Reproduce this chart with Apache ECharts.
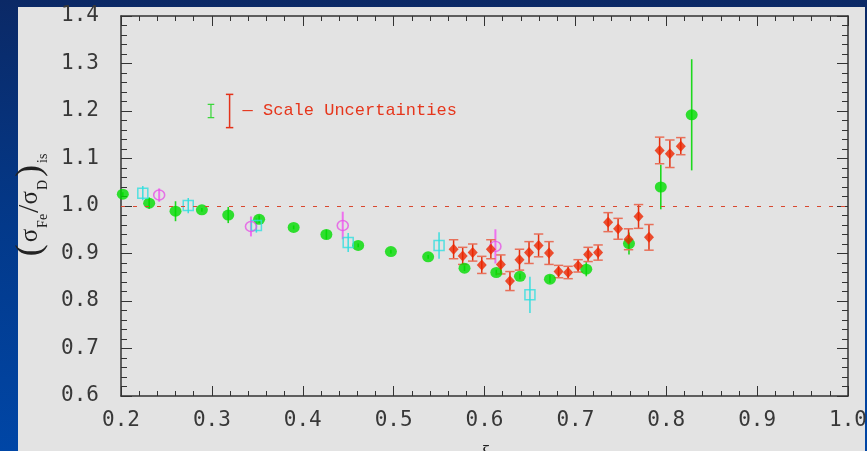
<!DOCTYPE html>
<html>
<head>
<meta charset="utf-8">
<script src="https://cdn.jsdelivr.net/npm/echarts@6/dist/echarts.min.js"></script>
<style>
  html, body { margin: 0; padding: 0; width: 867px; height: 451px; overflow: hidden;
    background: linear-gradient(180deg, #0b2966 0%, #03398a 50%, #0046a6 100%); }
  #panel { position: absolute; left: 18px; top: 7px; width: 847px; height: 444px; background: #e3e3e3; }
  #chart { position: absolute; left: 0; top: 0; width: 867px; height: 451px; }
</style>
</head>
<body>
<div id="panel"></div>
<div id="chart"></div>
<script>
// Iron / deuterium structure-function ratio versus ξ, four data sets.
const greenXi    = [0.202, 0.231, 0.260, 0.289, 0.318, 0.352, 0.390, 0.426, 0.461, 0.497, 0.538, 0.578, 0.613, 0.639, 0.672, 0.712, 0.759, 0.794, 0.828];
const greenRatio = [1.025, 1.006, 0.989, 0.992, 0.981, 0.972, 0.955, 0.940, 0.917, 0.904, 0.893, 0.869, 0.860, 0.852, 0.846, 0.867, 0.921, 1.040, 1.192];
const greenErr   = [0.004, 0.012, 0.021, 0.004, 0.017, 0.008, 0.004, 0.010, 0.004, 0.004, 0.004, 0.006, 0.006, 0.006, 0.008, 0.015, 0.023, 0.047, 0.117];

const cyanXi    = [0.224, 0.274, 0.349, 0.450, 0.550, 0.650];
const cyanRatio = [1.027, 1.001, 0.959, 0.923, 0.917, 0.813];
const cyanErr   = [0.015, 0.016, 0.015, 0.020, 0.028, 0.038];

const magentaXi    = [0.242, 0.343, 0.444, 0.612];
const magentaRatio = [1.023, 0.957, 0.959, 0.915];
const magentaErr   = [0.014, 0.021, 0.029, 0.036];

const redXi    = [0.566, 0.576, 0.587, 0.597, 0.607, 0.618, 0.628, 0.6385, 0.649, 0.6595, 0.671, 0.6815, 0.692, 0.703, 0.714, 0.725, 0.736, 0.747, 0.7585, 0.7695, 0.781, 0.7927, 0.804, 0.816];
const redRatio = [0.909, 0.895, 0.902, 0.876, 0.909, 0.877, 0.842, 0.887, 0.902, 0.917, 0.901, 0.862, 0.860, 0.874, 0.898, 0.902, 0.966, 0.952, 0.930, 0.978, 0.934, 1.117, 1.110, 1.126];
const redErr   = [0.020, 0.018, 0.018, 0.018, 0.020, 0.020, 0.020, 0.022, 0.023, 0.024, 0.024, 0.013, 0.013, 0.013, 0.015, 0.016, 0.020, 0.022, 0.022, 0.025, 0.027, 0.028, 0.029, 0.018];

// Overall normalisation uncertainties shown as the key bars
const scaleXi    = [0.299, 0.3195];
const scaleRatio = [1.2, 1.2];
const scaleErr   = [0.014, 0.035];
const scaleText  = '— Scale Uncertainties';

const xRange = [0.2, 1.0];
const yRange = [0.6, 1.4];
const unityLine = 1.0;

const pts  = (xs, ys) => xs.map((x, i) => [x, ys[i]]);
const errs = (xs, ys, es) => xs.map((x, i) => [x, ys[i], es[i]]);

function errorBars(color, width, capHalf, capColor, extra) {
  return function (params, api) {
    const x = api.value(0), y = api.value(1), e = api.value(2);
    const hi = api.coord([x, y + e]);
    const lo = api.coord([x, y - e]);
    const children = [{
      type: 'line',
      shape: { x1: hi[0], y1: hi[1], x2: lo[0], y2: lo[1] },
      style: { stroke: color, lineWidth: width }
    }];
    if (capHalf) {
      [hi, lo].forEach(p => children.push({
        type: 'line',
        shape: { x1: p[0] - capHalf, y1: p[1], x2: p[0] + capHalf, y2: p[1] },
        style: { stroke: capColor || color, lineWidth: width }
      }));
    }
    if (extra) children.push(extra(api.coord([x, y])));
    return { type: 'group', children };
  };
}

const axisColor = '#333';
const labelFont = { fontFamily: 'DejaVu Sans Mono', fontSize: 21, color: '#383838' };

function xAxisDef(pos, showLabels) {
  return {
    type: 'value', position: pos, min: xRange[0], max: xRange[1], interval: 0.1,
    axisLine: { show: true, onZero: false, lineStyle: { color: axisColor, width: 1.5 } },
    axisTick: { show: true, inside: true, length: 10, lineStyle: { color: axisColor, width: 1 } },
    minorTick: { show: true, splitNumber: 5, length: 5, lineStyle: { color: axisColor, width: 1 } },
    splitLine: { show: false },
    axisLabel: Object.assign({ show: showLabels, margin: 14, showMinLabel: true, showMaxLabel: true,
      formatter: v => v.toFixed(1) }, labelFont)
  };
}
function yAxisDef(pos, showLabels) {
  return {
    type: 'value', position: pos, min: yRange[0], max: yRange[1], interval: 0.1,
    axisLine: { show: true, onZero: false, lineStyle: { color: axisColor, width: 1.5 } },
    axisTick: { show: true, inside: true, length: 11, lineStyle: { color: axisColor, width: 1 } },
    minorTick: { show: true, splitNumber: 5, length: 6, lineStyle: { color: axisColor, width: 1 } },
    splitLine: { show: false },
    axisLabel: Object.assign({ show: showLabels, margin: 22, showMinLabel: true, showMaxLabel: true,
      formatter: v => v.toFixed(1) }, labelFont)
  };
}

const xBottom = xAxisDef('bottom', true);
Object.assign(xBottom, {
  name: 'ξ', nameLocation: 'middle', nameGap: 48,
  nameTextStyle: { fontFamily: 'Liberation Serif', fontStyle: 'italic', fontSize: 21, color: '#222' }
});
const yLeft = yAxisDef('left', true);
Object.assign(yLeft, {
  name: '{p|(}{s|σ}{sb|Fe}{sl|/}{s|σ}{sb|D}{p|)}{si|is}',
  nameLocation: 'middle', nameRotate: 90, nameGap: 68,
  nameTextStyle: {
    color: '#222', fontFamily: 'Liberation Serif',
    rich: {
      p:  { fontFamily: 'Liberation Serif', fontSize: 36, lineHeight: 40, color: '#222', padding: [0, 2, 0, 2] },
      s:  { fontFamily: 'Liberation Serif', fontSize: 25, lineHeight: 40, color: '#222' },
      sb: { fontFamily: 'Liberation Serif', fontSize: 14, lineHeight: 17, verticalAlign: 'bottom', color: '#222', padding: [0, 1, 0, 1] },
      sl: { fontFamily: 'Liberation Serif', fontSize: 30, lineHeight: 40, color: '#222' },
      si: { fontFamily: 'Liberation Serif', fontSize: 14, lineHeight: 24, verticalAlign: 'bottom', color: '#222' }
    }
  }
});

const option = {
  animation: false,
  backgroundColor: 'transparent',
  grid: { left: 121, right: 19, top: 16, bottom: 55, containLabel: false, outerBoundsMode: 'none' },
  xAxis: [xBottom, xAxisDef('top', false)],
  yAxis: [yLeft, yAxisDef('right', false)],
  series: [
    {
      type: 'custom', name: 'greenErr', data: errs(greenXi, greenRatio, greenErr),
      renderItem: errorBars('#1ed81e', 1.6), encode: { x: 0, y: 1 }, silent: true
    },
    {
      type: 'scatter', name: 'green', data: pts(greenXi, greenRatio),
      symbol: 'circle', symbolSize: [12, 11], itemStyle: { color: '#00dc00' }, silent: true,
      markLine: {
        silent: true, symbol: 'none', label: { show: false },
        lineStyle: { color: '#d9482f', type: [4, 8], width: 1.2 },
        data: [{ yAxis: unityLine }]
      }
    },
    {
      type: 'custom', name: 'cyanErr', data: errs(cyanXi, cyanRatio, cyanErr),
      renderItem: errorBars('#3ddede', 1.5), encode: { x: 0, y: 1 }, silent: true
    },
    {
      type: 'scatter', name: 'cyan', data: pts(cyanXi, cyanRatio),
      symbol: 'rect', symbolSize: 10, silent: true,
      itemStyle: { color: 'rgba(0,0,0,0)', borderColor: '#2fdede', borderWidth: 1.5 }
    },
    {
      type: 'custom', name: 'magentaErr', data: errs(magentaXi, magentaRatio, magentaErr),
      renderItem: errorBars('#ee70ee', 2), encode: { x: 0, y: 1 }, silent: true
    },
    {
      type: 'scatter', name: 'magenta', data: pts(magentaXi, magentaRatio),
      symbol: 'circle', symbolSize: [11, 10], silent: true,
      itemStyle: { color: 'rgba(0,0,0,0)', borderColor: '#e655e6', borderWidth: 1.5 }
    },
    {
      type: 'custom', name: 'redErr', data: errs(redXi, redRatio, redErr),
      renderItem: errorBars('#e4300e', 1.5, 4.7, '#e8705a'), encode: { x: 0, y: 1 }, silent: true
    },
    {
      type: 'scatter', name: 'red', data: pts(redXi, redRatio),
      symbol: 'diamond', symbolSize: [10, 11], itemStyle: { color: '#ec2500' }, silent: true
    },
    {
      type: 'custom', name: 'scaleGreen', data: errs(scaleXi.slice(0, 1), scaleRatio.slice(0, 1), scaleErr.slice(0, 1)),
      renderItem: errorBars('#33d633', 1.2, 3.3), encode: { x: 0, y: 1 }, silent: true
    },
    {
      type: 'custom', name: 'scaleRed', data: errs(scaleXi.slice(1), scaleRatio.slice(1), scaleErr.slice(1)),
      renderItem: errorBars('#e4321a', 1.5, 3.7, null, c => ({
        type: 'text', x: c[0] + 13, y: c[1] - 1,
        style: { text: scaleText, fill: '#e6361c', fontFamily: 'Liberation Mono', fontSize: 17,
                 align: 'left', verticalAlign: 'middle' }
      })),
      encode: { x: 0, y: 1 }, silent: true
    }
  ]
};

const chart = echarts.init(document.getElementById('chart'), null, { renderer: 'canvas' });
chart.setOption(option);
</script>
</body>
</html>
